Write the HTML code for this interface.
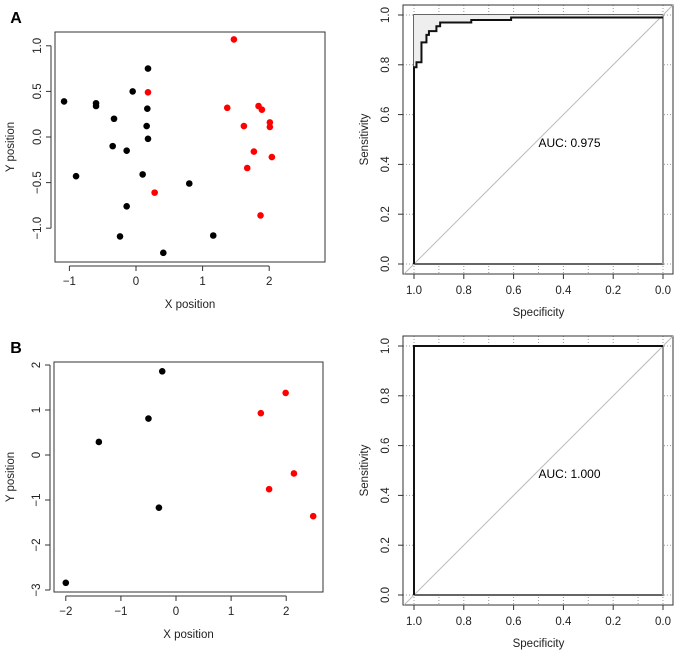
<!DOCTYPE html>
<html><head><meta charset="utf-8"><style>
body{margin:0;background:#fff}
svg{display:block;font-family:"Liberation Sans",Arial,sans-serif}
</style></head><body>
<svg id="fig" width="680" height="656" viewBox="0 0 680 656"></svg>
<script>
// Panel A scatter data
const aBlackX=[-1.08,-0.9,-0.6,-0.6,-0.33,-0.35,-0.14,-0.05,0.18,0.17,0.16,0.18,0.1,-0.14,-0.24,0.41,0.8,1.16];
const aBlackY=[0.39,-0.43,0.37,0.34,0.2,-0.1,-0.15,0.5,0.75,0.31,0.12,-0.02,-0.41,-0.76,-1.09,-1.27,-0.51,-1.08];
const aRedX=[0.18,0.28,1.47,1.37,1.62,1.84,1.89,2.01,2.01,1.77,1.67,2.04,1.87];
const aRedY=[0.49,-0.61,1.07,0.32,0.12,0.34,0.30,0.16,0.11,-0.16,-0.34,-0.22,-0.86];
const aXTicks=[-1,0,1,2];
const aYTicks=["-1.0","-0.5","0.0","0.5","1.0"];
// Panel B scatter data
const bBlackX=[-2.0,-1.4,-0.5,-0.25,-0.31];
const bBlackY=[-2.84,0.29,0.81,1.86,-1.17];
const bRedX=[1.54,1.99,2.14,1.69,2.49];
const bRedY=[0.93,1.38,-0.41,-0.76,-1.36];
const bXTicks=[-2,-1,0,1,2];
const bYTicks=[-3,-2,-1,0,1,2];
// ROC data
const rocASpec=[1,1,0.99,0.99,0.97,0.97,0.95,0.95,0.94,0.94,0.91,0.91,0.895,0.895,0.77,0.77,0.61,0.61,0];
const rocASens=[0,0.79,0.79,0.81,0.81,0.89,0.89,0.92,0.92,0.935,0.935,0.955,0.955,0.97,0.97,0.98,0.98,0.99,0.99];
const rocBSpec=[1,1,0];
const rocBSens=[0,1,1];
const rocTicks=["0.0","0.2","0.4","0.6","0.8","1.0"];
const aucA="AUC: 0.975", aucB="AUC: 1.000";

const NS="http://www.w3.org/2000/svg";
const svg=document.getElementById('fig');
function mk(tag,attrs,parent){const e=document.createElementNS(NS,tag);for(const k in attrs)e.setAttribute(k,attrs[k]);(parent||svg).appendChild(e);return e;}
function txt(s,x,y,opts,parent){const e=mk('text',Object.assign({x:x,y:y,'font-size':11.5,fill:'#222','text-anchor':'middle'},opts||{}),parent);e.textContent=s;return e;}

function scatter(name,box,xt,yt,bx,by,rx,ry,label){
  const g=mk('g',{});
  
  
  const X=v=>box.x0+(v-box.xa)*box.xs, Y=v=>box.y0-(v-box.ya)*box.ys;
  const r=mk('rect',{x:box.l,y:box.t,width:box.r-box.l,height:box.b-box.t,fill:'none',stroke:'#333','stroke-width':1},g);
  
  const xa=mk('line',{x1:X(xt[0]),x2:X(xt[xt.length-1]),y1:box.b+4,y2:box.b+4,stroke:'#333'},g);
  
  xt.forEach(v=>{mk('line',{x1:X(v),x2:X(v),y1:box.b+4,y2:box.b+9,stroke:'#333'},g);
    const t=txt(String(v).replace('-','\u2212'),X(v),box.b+23,{},g);});
  const yv=yt.map(Number);
  const ya=mk('line',{x1:box.l-4,x2:box.l-4,y1:Y(yv[0]),y2:Y(yv[yv.length-1]),stroke:'#333'},g);
  
  yt.forEach(s=>{const v=Number(s);mk('line',{x1:box.l-9,x2:box.l-4,y1:Y(v),y2:Y(v),stroke:'#333'},g);
    const t=txt(String(s).replace('-','\u2212'),box.l-14,Y(v),{transform:`rotate(-90 ${box.l-14} ${Y(v)})`},g);});
  const xl=txt('X position',(box.l+box.r)/2,box.b+46,{},g);
  const yc=(box.t+box.b)/2;
  const yl=txt('Y position',14,yc,{transform:`rotate(-90 14 ${yc})`},g);
  bx.forEach((v,i)=>{const c=mk('circle',{cx:X(v),cy:Y(by[i]),r:3.3,fill:'#000'},g);});
  rx.forEach((v,i)=>{const c=mk('circle',{cx:X(v),cy:Y(ry[i]),r:3.3,fill:'#f00'},g);});
  const pl=txt(label,16,box.t-9,{'font-size':16,'font-weight':'bold',fill:'#000'},g);
}

function roc(name,top,spec,sens,auc,shade){
  const g=mk('g',{});
  
  
  const x1=414,x0=663,y1=top+10,y0=top+259;
  const X=v=>x0+(x1-x0)*v, Y=v=>y0-(y0-y1)*v;
  const l=403,r=673,t=top,b=top+269;
  for(let i=0;i<=10;i++){const x=X(i/10);
    mk('line',{x1:x,x2:x,y1:t,y2:b,stroke:'#999','stroke-dasharray':'1,2','stroke-width':1},g);
    const y=Y(i/10);
    if(i%2==0) mk('line',{x1:l,x2:r,y1:y,y2:y,stroke:'#999','stroke-dasharray':'1,2','stroke-width':1},g);}
  mk('rect',{x:X(1)+0.5,y:Y(1)+0.5,width:X(0)-X(1)-1,height:Y(0)-Y(1)-1,fill:'#fff'},g);
  mk('rect',{x:X(1),y:Y(1),width:X(0)-X(1),height:Y(0)-Y(1),fill:'none',stroke:'#333','stroke-width':1.5},g);
  mk('line',{x1:X(0),x2:X(0),y1:Y(1),y2:Y(0),stroke:'#999','stroke-width':2},g);
  const fr=mk('rect',{x:l,y:t,width:r-l,height:b-t,fill:'none',stroke:'#333'},g);
  
  if(shade){let p=spec.map((s,i)=>X(s)+','+Y(sens[i])).join(' ');p+=' '+X(0)+','+Y(1)+' '+X(1)+','+Y(1);
    const sh=mk('polygon',{points:p,fill:'#eee',stroke:'none'},g);}
  const d=mk('line',{x1:X(1)-(b-Y(0)),y1:b,x2:X(0)+(Y(1)-t),y2:t,stroke:'#bbb'},g);
  
  const c=mk('polyline',{points:spec.map((s,i)=>X(s)+','+Y(sens[i])).join(' '),fill:'none',stroke:'#111','stroke-width':2},g);
  
  const xa=mk('line',{x1:X(1),x2:X(0),y1:b,y2:b,stroke:'#333'},g);
  const ya=mk('line',{x1:l,x2:l,y1:Y(0),y2:Y(1),stroke:'#333'},g);
  rocTicks.forEach(s=>{const v=Number(s);
    mk('line',{x1:X(v),x2:X(v),y1:b,y2:b+5,stroke:'#333'},g);
    const tx=txt(s,X(v),b+20,{},g);
    mk('line',{x1:l-5,x2:l,y1:Y(v),y2:Y(v),stroke:'#333'},g);
    const ty=txt(s,l-14,Y(v),{transform:`rotate(-90 ${l-14} ${Y(v)})`},g);});
  const xl=txt('Specificity',X(0.5),b+42,{},g);
  const yc=Y(0.5);
  const yl=txt('Sensitivity',368,yc,{transform:`rotate(-90 368 ${yc})`},g);
  const at=txt(auc,X(0.5),Y(0.47),{'text-anchor':'start',fill:'#000','font-size':12},g);
}

scatter('scatter-a',{l:55,r:325,t:32,b:262,x0:136,xa:0,xs:66.6,y0:137,ya:0,ys:91.2},aXTicks,aYTicks,aBlackX,aBlackY,aRedX,aRedY,'A');
scatter('scatter-b',{l:54,r:323,t:362,b:592,x0:176,xa:0,xs:55.1,y0:455,ya:0,ys:45},bXTicks,bYTicks.map(String),bBlackX,bBlackY,bRedX,bRedY,'B');
roc('roc-a',5,rocASpec,rocASens,aucA,true);
roc('roc-b',336,rocBSpec,rocBSens,aucB,false);
</script>
</body></html>
